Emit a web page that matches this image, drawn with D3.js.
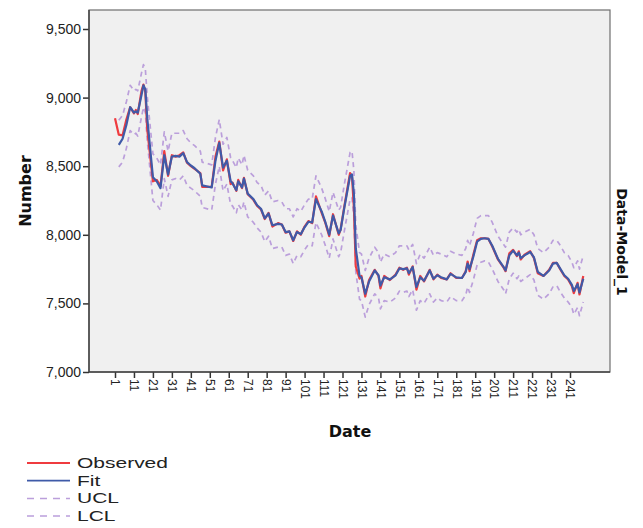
<!DOCTYPE html>
<html lang="en">
<head>
<meta charset="UTF-8">
<script src="https://d3js.org/d3.v7.min.js"></script>
<title>Data-Model_1</title>
<style>
  body { margin: 0; background: #fff; }
</style>
</head>
<body>
<div id="chart"></div>
<script>
// values, at the turning points of the lines
const dates = [1, 3, 5, 7, 9, 11, 12, 13, 15, 16, 17, 18, 21, 23, 25, 27, 29, 31, 33, 35, 37, 39, 41, 43, 46, 47, 52, 54, 56, 58, 60, 62, 63, 65, 66, 68, 69, 71, 74, 76, 78, 80, 82, 84, 87, 89, 91, 93, 95, 97, 99, 101, 103, 105, 107, 110, 112, 114, 116, 119, 120, 122, 125, 126, 127, 128, 130, 131, 133, 135, 138, 140, 141, 143, 146, 149, 151, 153, 155, 156, 158, 160, 162, 164, 167, 169, 171, 173, 176, 178, 181, 184, 186, 187, 188, 190, 192, 194, 196, 198, 200, 203, 206, 207, 209, 211, 213, 214, 215, 217, 220, 222, 224, 227, 230, 232, 234, 236, 238, 240, 242, 243, 245, 246, 248];

const observed = [8850, 8730, 8725, 8840, 8930, 8885, 8910, 8880, 9050, 9095, 9040, 8770, 8390, 8400, 8355, 8610, 8430, 8580, 8570, 8580, 8600, 8525, 8500, 8480, 8450, 8350, 8350, 8570, 8680, 8470, 8550, 8370, 8380, 8320, 8400, 8340, 8415, 8295, 8255, 8210, 8185, 8115, 8160, 8060, 8085, 8075, 8015, 8025, 7955, 8025, 8000, 8060, 8100, 8085, 8280, 8160, 8085, 7990, 8150, 8000, 8040, 8210, 8450, 8425, 8200, 7770, 7680, 7700, 7550, 7670, 7745, 7700, 7610, 7700, 7670, 7710, 7760, 7745, 7760, 7710, 7770, 7600, 7700, 7660, 7745, 7675, 7710, 7685, 7675, 7720, 7685, 7685, 7735, 7805, 7735, 7855, 7960, 7975, 7975, 7970, 7915, 7820, 7760, 7735, 7865, 7890, 7845, 7880, 7820, 7855, 7880, 7830, 7720, 7700, 7745, 7795, 7795, 7745, 7700, 7675, 7625, 7575, 7650, 7565, 7700];

const fit = [null, 8655, 8700, 8800, 8930, 8890, 8900, 8890, 9020, 9090, 9060, 8850, 8420, 8390, 8340, 8580, 8440, 8570, 8575, 8570, 8595, 8530, 8505, 8485, 8445, 8360, 8345, 8540, 8670, 8490, 8540, 8390, 8375, 8325, 8390, 8345, 8410, 8300, 8260, 8215, 8190, 8120, 8155, 8070, 8080, 8075, 8020, 8025, 7960, 8020, 8005, 8055, 8095, 8090, 8260, 8170, 8090, 8000, 8140, 8010, 8035, 8200, 8430, 8440, 8300, 7900, 7700, 7690, 7570, 7660, 7740, 7705, 7630, 7690, 7675, 7705, 7755, 7750, 7755, 7720, 7765, 7620, 7690, 7665, 7740, 7680, 7705, 7690, 7675, 7715, 7690, 7685, 7730, 7790, 7750, 7840, 7950, 7970, 7975, 7970, 7920, 7825, 7765, 7740, 7850, 7885, 7850, 7870, 7830, 7850, 7875, 7835, 7730, 7700, 7740, 7790, 7795, 7750, 7705, 7680, 7635, 7590, 7640, 7580, 7680];

const ucl = [null, 8835, 8870, 8970, 9090, 9050, 9060, 9050, 9180, 9240, 9210, 9010, 8590, 8560, 8510, 8750, 8610, 8740, 8740, 8740, 8760, 8700, 8670, 8650, 8610, 8530, 8510, 8710, 8840, 8660, 8710, 8560, 8540, 8490, 8560, 8510, 8580, 8470, 8430, 8380, 8360, 8290, 8320, 8240, 8250, 8240, 8190, 8190, 8130, 8190, 8170, 8220, 8260, 8260, 8430, 8340, 8260, 8170, 8310, 8180, 8200, 8370, 8600, 8610, 8470, 8070, 7870, 7860, 7740, 7830, 7910, 7870, 7800, 7860, 7840, 7870, 7920, 7920, 7920, 7890, 7930, 7790, 7860, 7830, 7910, 7850, 7870, 7860, 7840, 7880, 7860, 7850, 7900, 7960, 7920, 8010, 8120, 8140, 8140, 8140, 8090, 7990, 7930, 7910, 8020, 8050, 8020, 8040, 8000, 8020, 8040, 8000, 7900, 7870, 7910, 7960, 7960, 7920, 7870, 7850, 7800, 7760, 7810, 7750, 7850];

const lcl = [null, 8495, 8530, 8630, 8760, 8730, 8740, 8720, 8860, 8930, 8890, 8690, 8250, 8220, 8180, 8410, 8280, 8400, 8410, 8400, 8430, 8360, 8340, 8320, 8280, 8200, 8180, 8370, 8500, 8320, 8370, 8220, 8210, 8160, 8220, 8180, 8240, 8130, 8090, 8050, 8020, 7950, 7990, 7900, 7910, 7910, 7850, 7860, 7790, 7850, 7840, 7890, 7930, 7920, 8090, 8000, 7920, 7830, 7970, 7840, 7870, 8030, 8260, 8270, 8130, 7730, 7530, 7520, 7400, 7490, 7570, 7540, 7460, 7520, 7510, 7540, 7590, 7580, 7590, 7550, 7600, 7450, 7520, 7500, 7570, 7510, 7540, 7520, 7510, 7550, 7520, 7520, 7560, 7620, 7580, 7670, 7780, 7800, 7810, 7800, 7750, 7660, 7600, 7570, 7680, 7720, 7680, 7700, 7660, 7680, 7710, 7670, 7560, 7530, 7570, 7620, 7630, 7580, 7540, 7510, 7470, 7420, 7470, 7410, 7510];

const xTicks = [1, 11, 21, 31, 41, 51, 61, 71, 81, 91, 101, 111, 121, 131, 141, 151, 161, 171, 181, 191, 201, 211, 221, 231, 241];
const yTicks = [7000, 7500, 8000, 8500, 9000, 9500];

const series = [
  { name: "Observed", values: observed, color: "#ef3b3f", dash: null, width: 2.2 },
  { name: "Fit", values: fit, color: "#3f5aa8", dash: null, width: 2.2 },
  { name: "UCL", values: ucl, color: "#bb9fdb", dash: "5,4", width: 1.7 },
  { name: "LCL", values: lcl, color: "#bb9fdb", dash: "5,4", width: 1.7 }
];

const W = 643, H = 528;
const plot = { left: 89, right: 610, top: 10, bottom: 372 };

const svg = d3.select("#chart").append("svg").attr("width", W).attr("height", H);

const x = d3.scaleLinear().domain([1, 241]).range([115, 570]);
const y = d3.scaleLinear().domain([7000, 9500]).range([372, 29]);

// plot background
svg.append("rect")
  .attr("x", plot.left).attr("y", plot.top)
  .attr("width", plot.right - plot.left).attr("height", plot.bottom - plot.top)
  .attr("fill", "#f0f0f0").attr("stroke", "#6e6e6e").attr("stroke-width", 1.2);

// axes
const yAxis = svg.append("g").attr("transform", `translate(${plot.left},0)`)
  .call(d3.axisLeft(y).tickValues(yTicks).tickSize(6).tickFormat(d3.format(",")));
yAxis.select(".domain").remove();
yAxis.selectAll("line").attr("stroke", "#333").attr("stroke-width", 1.5);
yAxis.selectAll("text").attr("fill", "#222").style("font", "14px 'Liberation Sans', Arial, sans-serif").attr("x", -8);

const xAxis = svg.append("g").attr("transform", `translate(0,${plot.bottom})`)
  .call(d3.axisBottom(x).tickValues(xTicks).tickSize(6));
xAxis.select(".domain").remove();
xAxis.selectAll("line").attr("stroke", "#333").attr("stroke-width", 1.5);
xAxis.selectAll("text")
  .attr("fill", "#222")
  .style("font", "12px 'Liberation Sans', Arial, sans-serif")
  .attr("transform", "rotate(90)")
  .attr("x", 7).attr("y", 0).attr("dy", "0.35em")
  .style("text-anchor", "start");

// darker left and bottom axis lines
svg.append("line").attr("x1", plot.left).attr("x2", plot.left).attr("y1", plot.top).attr("y2", plot.bottom)
  .attr("stroke", "#444").attr("stroke-width", 1.5);
svg.append("line").attr("x1", plot.left).attr("x2", plot.right).attr("y1", plot.bottom).attr("y2", plot.bottom)
  .attr("stroke", "#444").attr("stroke-width", 1.5);

// lines: bands first, then observed, then fit on top
const line = vals => d3.line()
  .defined((d, i) => vals[i] != null)
  .x((d, i) => x(dates[i]))
  .y((d, i) => y(vals[i]))(dates);

[series[2], series[3], series[0], series[1]].forEach(s => {
  svg.append("path")
    .attr("d", line(s.values))
    .attr("fill", "none")
    .attr("stroke", s.color)
    .attr("stroke-width", s.width)
    .attr("stroke-dasharray", s.dash)
    .attr("stroke-linejoin", "round");
});

// titles
svg.append("text").attr("transform", "translate(31,191) rotate(-90)")
  .attr("text-anchor", "middle")
  .style("font", "bold 16px 'DejaVu Sans', sans-serif").attr("fill", "#111")
  .text("Number");
svg.append("text").attr("x", 350).attr("y", 437)
  .attr("text-anchor", "middle")
  .style("font", "bold 16px 'DejaVu Sans', sans-serif").attr("fill", "#111")
  .text("Date");
svg.append("text").attr("transform", "translate(617,242) rotate(90)")
  .attr("text-anchor", "middle")
  .style("font", "bold 14px 'DejaVu Sans', sans-serif").attr("fill", "#111")
  .text("Data-Model_1");

// legend
const legend = svg.append("g").attr("transform", "translate(27,463)");
series.forEach((s, i) => {
  const g = legend.append("g").attr("transform", `translate(0,${i * 17.7})`);
  g.append("line").attr("x1", 0).attr("x2", 43).attr("y1", 0).attr("y2", 0)
    .attr("stroke", s.color).attr("stroke-width", s.dash ? 1.5 : 1.8)
    .attr("stroke-dasharray", s.dash ? "7,6" : null);
  g.append("text").attr("transform", "translate(50,5) scale(1.5,1)")
    .style("font", "14px 'Liberation Sans', Arial, sans-serif").attr("fill", "#222")
    .text(s.name);
});
</script>
</body>
</html>
